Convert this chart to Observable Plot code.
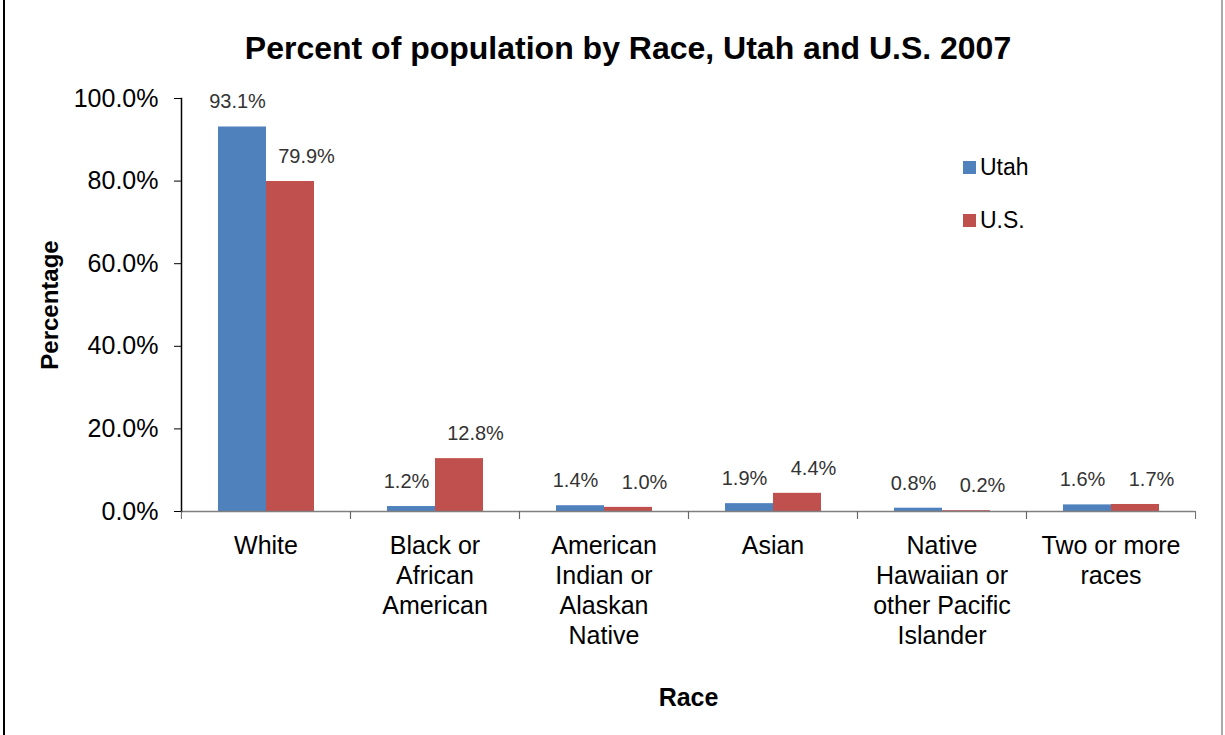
<!DOCTYPE html>
<html>
<head>
<meta charset="utf-8">
<script src="https://cdn.jsdelivr.net/npm/d3@7"></script>
<script src="https://cdn.jsdelivr.net/npm/@observablehq/plot@0.6"></script>
<style>
  html, body { margin: 0; padding: 0; background: #fff; }
  #wrap { position: relative; width: 1225px; height: 735px; overflow: hidden; font-family: "Liberation Sans", Arial, sans-serif; }
  #chart { position: absolute; left: 0; top: 0; }
  #title { position: absolute; left: 0; width: 1256px; top: 30px; text-align: center; font-weight: bold; font-size: 32px; line-height: 36px; color: #000; }
  #legend { position: absolute; left: 963px; top: 154px; font-size: 23px; color: #000; }
  #legend .row { display: flex; align-items: center; height: 26px; margin-bottom: 27px; }
  #legend .sw { width: 13px; height: 13px; margin-right: 4px; }
  #bl { position: absolute; left: 3px; top: 0; width: 2px; height: 735px; background: #000; }
  #br { position: absolute; left: 1221px; top: 0; width: 2px; height: 735px; background: #aaa; }
</style>
</head>
<body>
<div id="wrap">
  <div id="chart"></div>
  <div id="title"></div>
  <div id="legend"></div>
  <div id="bl"></div>
  <div id="br"></div>
</div>
<script>
const titleText = "Percent of population by Race, Utah and U.S. 2007";
const categories = [
  "White",
  "Black or African American",
  "American Indian or Alaskan Native",
  "Asian",
  "Native Hawaiian or other Pacific Islander",
  "Two or more races"
];
const categoryLabels = [
  "White",
  "Black or\nAfrican\nAmerican",
  "American\nIndian or\nAlaskan\nNative",
  "Asian",
  "Native\nHawaiian or\nother Pacific\nIslander",
  "Two or more\nraces"
];
const series = ["Utah", "U.S."];
const seriesColors = ["#4F81BD", "#C0504D"];
const utahValues = [93.1, 1.2, 1.4, 1.9, 0.8, 1.6];
const usValues = [79.9, 12.8, 1.0, 4.4, 0.2, 1.7];
const yTicks = [0, 20, 40, 60, 80, 100];
const yLabel = "Percentage";
const xLabel = "Race";

const data = [];
categories.forEach((c, i) => {
  data.push({category: c, series: series[0], value: utahValues[i]});
  data.push({category: c, series: series[1], value: usValues[i]});
});
const labelOf = new Map(categories.map((c, i) => [c, categoryLabels[i]]));
const pct = d => d.toFixed(1) + "%";

const W = 1225, H = 735, mL = 180, mR = 30, mT = 98, mB = 224;
const step = (W - mL - mR) / categories.length;
const font = "'Liberation Sans', Arial, sans-serif";

const chart = Plot.plot({
  width: W,
  height: H,
  marginLeft: mL,
  marginRight: mR,
  marginTop: mT,
  marginBottom: mB,
  style: {fontFamily: font, background: "transparent", color: "#000", overflow: "visible"},
  fx: {domain: categories, padding: 0, label: null},
  x: {domain: series, paddingInner: 0, paddingOuter: 0.74, axis: null},
  y: {domain: [0, 100], label: null},
  color: {domain: series, range: seriesColors},
  marks: [
    Plot.barY(data, {fx: "category", x: "series", y: "value", fill: "series"}),
    Plot.ruleY([0], {stroke: "#808080", strokeWidth: 1.5}),
    Plot.frame({anchor: "left", facetAnchor: "left", stroke: "#000", strokeWidth: 1.5}),
    Plot.axisY({ticks: yTicks, tickFormat: pct, tickSize: 7, tickPadding: 16, fontSize: 25, stroke: "#000", label: null}),
    Plot.axisY({ticks: yTicks, tickFormat: () => "", tickSize: 0, fontSize: 24, fontWeight: "bold",
      label: yLabel, labelAnchor: "center", labelArrow: "none", labelOffset: 141}),
    Plot.axisFx({anchor: "bottom", tickSize: 0, tickPadding: 21, fontSize: 25, lineHeight: 1.2,
      tickFormat: d => labelOf.get(d), label: null}),
    Plot.axisFx({anchor: "bottom", tickSize: 0, tickFormat: () => "", fontSize: 25, fontWeight: "bold",
      label: xLabel, labelAnchor: "center", labelArrow: "none", labelOffset: 194, dx: 6}),
    Plot.axisFx({anchor: "bottom", tickSize: 8, dx: -step / 2, tickFormat: () => "", stroke: "#666", label: null}),
    Plot.axisFx({anchor: "bottom", tickSize: 8, dx: step / 2, tickFormat: () => "", stroke: "#666", label: null}),
    Plot.text(data.filter(d => d.series === series[0]), {fx: "category", x: "series", y: "value",
      text: d => pct(d.value), dy: -25, dx: -5, fontSize: 20, fill: "#333"}),
    Plot.text(data.filter(d => d.series === series[1]), {fx: "category", x: "series", y: "value",
      text: d => pct(d.value), dy: -25, dx: 16, fontSize: 20, fill: "#333"})
  ]
});
document.getElementById("chart").appendChild(chart);
document.getElementById("title").textContent = titleText;

const legend = document.getElementById("legend");
series.forEach((s, i) => {
  const row = document.createElement("div");
  row.className = "row";
  const sw = document.createElement("div");
  sw.className = "sw";
  sw.style.background = seriesColors[i];
  const t = document.createElement("span");
  t.textContent = s;
  row.appendChild(sw);
  row.appendChild(t);
  legend.appendChild(row);
});
</script>
</body>
</html>
